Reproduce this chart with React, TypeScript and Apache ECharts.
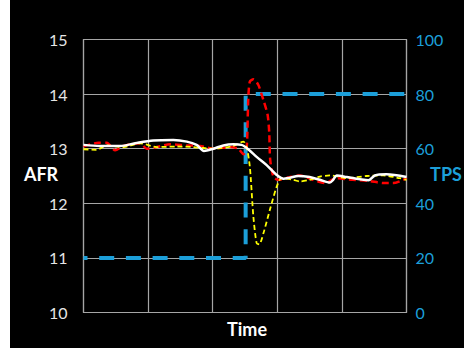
import React, { useEffect, useRef } from "react";
import * as echarts from "echarts";

const afrTicks = [10, 11, 12, 13, 14, 15];
const tpsTicks = [0, 20, 40, 60, 80, 100];

const tpsData: [number, number][] = [
  [0, 20], [50.2, 20], [50.2, 80], [100, 80],
];

const whiteData: [number, number][] = [
  [0, 13.07], [5, 13.05], [11.3, 13.05], [16, 13.1], [21.6, 13.15], [27.8, 13.16],
  [32, 13.13], [35, 13.07], [37.3, 12.96], [40.2, 13.0], [43.3, 13.06], [46.4, 13.08],
  [48.9, 13.07], [51, 12.99], [53.6, 12.85], [56.7, 12.7], [59.8, 12.52], [61.9, 12.45],
  [63.9, 12.47], [66.5, 12.5], [70, 12.48], [73.2, 12.43], [76.3, 12.38], [77.3, 12.43],
  [78.4, 12.51], [81.5, 12.48], [85.6, 12.44], [88.2, 12.42], [90.2, 12.51], [93.8, 12.53],
  [100, 12.48],
];

const redData: [number, number][] = [
  [0, 13.04], [4.6, 13.11], [7.2, 13.11], [9.8, 12.97], [12.4, 13.05], [17.5, 13.1],
  [19.6, 13.0], [22.7, 13.03], [26.8, 13.08], [32, 13.06], [36.1, 13.05], [40.2, 13.0],
  [45.4, 13.03], [47.9, 13.0], [49.5, 12.9], [50.5, 13.0], [51, 13.9], [51.5, 14.23],
  [52.6, 14.27], [54.1, 14.17], [55.7, 13.89], [57.0, 13.62], [57.5, 13.3], [57.8, 12.8],
  [58.8, 12.49], [60.3, 12.43], [63.9, 12.48], [67, 12.51], [71, 12.43], [75, 12.37],
  [78.1, 12.46], [83.3, 12.43], [88.4, 12.41], [92.8, 12.37], [95.9, 12.37], [99, 12.43],
  [100, 12.46],
];

const yellowData: [number, number][] = [
  [0, 12.99], [4, 12.98], [7.2, 13.06], [12.4, 13.03], [17.5, 13.1], [22.7, 13.03],
  [28.9, 13.04], [34, 13.03], [40.2, 13.0], [46.4, 13.05], [49.5, 13.13], [50.5, 13.03],
  [51.5, 12.67], [52.6, 11.75], [53.6, 11.27], [54.4, 11.25], [55.7, 11.45], [57.7, 11.88],
  [59.8, 12.3], [61.3, 12.46], [64.9, 12.43], [67, 12.4], [70, 12.43], [73.2, 12.49],
  [76.3, 12.51], [81.5, 12.46], [87.6, 12.5], [92.8, 12.51], [97.9, 12.46], [100, 12.43],
];

const BLUE = "#1c9fd9";
const GRID = "#a6a6a6";
const FONT = "Lato";

export default function App() {
  const ref = useRef<HTMLDivElement>(null);
  useEffect(() => {
    if (!ref.current) return;
    const chart = echarts.init(ref.current, null, { renderer: "svg" });
    chart.setOption({
      animation: false,
      backgroundColor: "#ffffff",
      grid: { left: 83.5, right: 57.5, top: 39.5, bottom: 36.5, containLabel: false },
      xAxis: {
        type: "value",
        min: 0,
        max: 100,
        interval: 20,
        axisLabel: { show: false },
        axisTick: { show: false },
        axisLine: { show: false },
        splitLine: { show: true, lineStyle: { color: GRID, width: 1.2 } },
      },
      yAxis: [
        {
          type: "value",
          min: afrTicks[0],
          max: afrTicks[afrTicks.length - 1],
          interval: 1,
          axisLine: { show: false },
          axisTick: { show: false },
          splitLine: { show: true, lineStyle: { color: GRID, width: 1.2 } },
          axisLabel: { color: "#e6e6e6", fontSize: 16, fontFamily: FONT, margin: 16 },
        },
        {
          type: "value",
          min: tpsTicks[0],
          max: tpsTicks[tpsTicks.length - 1],
          interval: 20,
          position: "right",
          axisLine: { show: false },
          axisTick: { show: false },
          splitLine: { show: false },
          axisLabel: { color: BLUE, fontSize: 16, fontFamily: FONT, margin: 9 },
        },
      ],
      graphic: [
        { type: "rect", z: -10, silent: true, shape: { x: 10, y: 0, width: 454, height: 348 }, style: { fill: "#000000" } },
        { type: "rect", z: 0, silent: true, shape: { x: 83.5, y: 39.5, width: 323, height: 273 }, style: { fill: "none", stroke: GRID, lineWidth: 1.2 } },
        { type: "text", x: 41, y: 174, style: { text: "AFR", fill: "#ffffff", font: `bold 18px ${FONT}`, align: "center", verticalAlign: "middle" } },
        { type: "text", x: 446, y: 174, style: { text: "TPS", fill: BLUE, font: `bold 18px ${FONT}`, align: "center", verticalAlign: "middle" } },
        { type: "text", x: 247, y: 329, style: { text: "Time", fill: "#ffffff", font: `bold 18px ${FONT}`, align: "center", verticalAlign: "middle" } },
      ],
      series: [
        {
          type: "line", yAxisIndex: 1, data: tpsData, symbol: "none", z: 2,
          lineStyle: { color: BLUE, width: 4, type: [15, 11.7], dashOffset: 11 },
        },
        {
          type: "line", yAxisIndex: 0, data: redData, symbol: "none", smooth: 0.25, z: 3,
          lineStyle: { color: "#ff0000", width: 2.5, type: [7, 4] },
        },
        {
          type: "line", yAxisIndex: 0, data: yellowData, symbol: "none", smooth: 0.25, z: 4,
          lineStyle: { color: "#ffff00", width: 1.8, type: [5, 3] },
        },
        {
          type: "line", yAxisIndex: 0, data: whiteData, symbol: "none", smooth: 0.3, z: 5,
          lineStyle: { color: "#ffffff", width: 2.5 },
        },
      ],
    });
    return () => chart.dispose();
  }, []);
  return (
    <div style={{ position: "fixed", left: 0, top: 0, width: 464, height: 349 }}>
      <div ref={ref} style={{ width: 464, height: 349 }} />
    </div>
  );
}
